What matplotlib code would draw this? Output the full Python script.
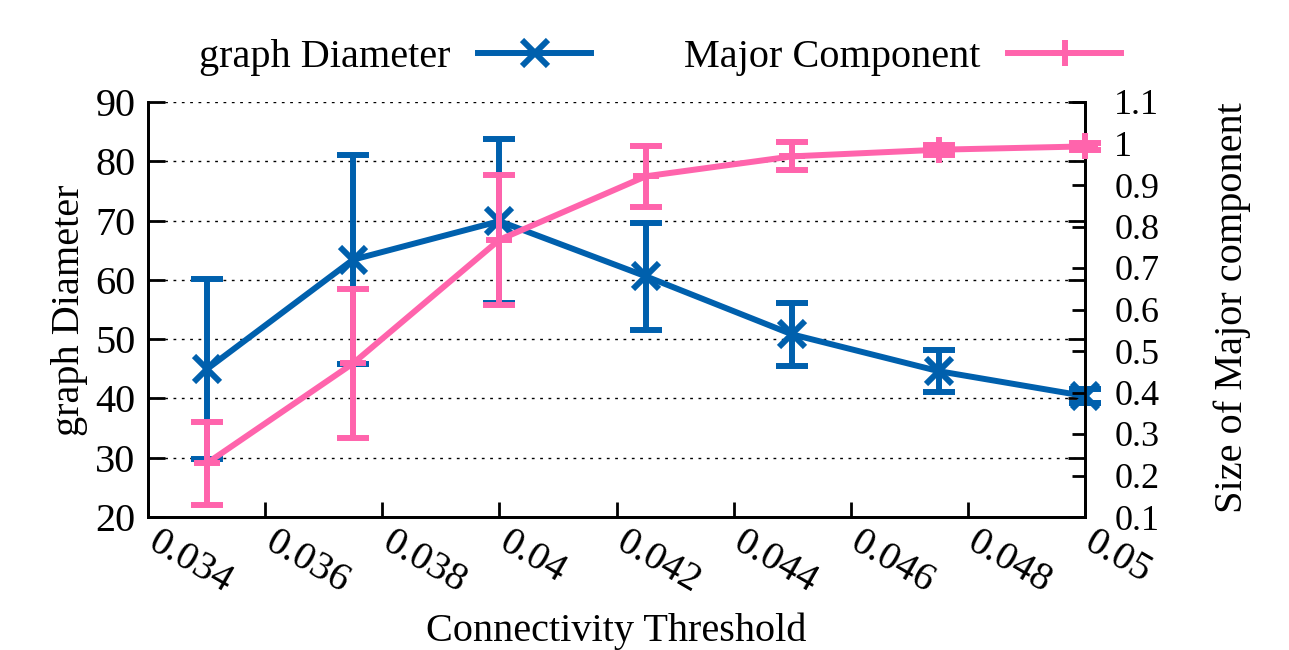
import matplotlib
matplotlib.use("Agg")
import matplotlib.pyplot as plt
from matplotlib.lines import Line2D
from matplotlib.transforms import ScaledTranslation

plt.rcParams['font.family'] = ['Liberation Serif', 'DejaVu Serif']

## données
seuils = [0.035, 0.0375, 0.04, 0.0425, 0.045, 0.0475, 0.05]
diametre = [44.9, 63.4, 69.9, 60.6, 50.8, 44.6, 40.4]
diametre_err = [15.2, 17.6, 13.8, 9.0, 5.3, 3.5, 1.2]
composante = [0.229, 0.470, 0.768, 0.921, 0.969, 0.985, 0.993]
composante_err = [0.10, 0.18, 0.157, 0.074, 0.034, 0.012, 0.008]
xticks = [0.034, 0.036, 0.038, 0.04, 0.042, 0.044, 0.046, 0.048, 0.05]
xlabels = ['0.034', '0.036', '0.038', '0.04', '0.042', '0.044', '0.046', '0.048', '0.05']
yticks_g = [20, 30, 40, 50, 60, 70, 80, 90]
yticks_d = [0.1, 0.2, 0.3, 0.4, 0.5, 0.6, 0.7, 0.8, 0.9, 1.0, 1.1]
ylabels_d = ['0.1', '0.2', '0.3', '0.4', '0.5', '0.6', '0.7', '0.8', '0.9', '1', '1.1']

bleu = '#0060ad'
rose = '#ff64ac'
taille = 29
ep = 4.3

fig = plt.figure(figsize=(12.89, 6.5), dpi=100)
ax1 = fig.add_axes([148/1289, 1-517/650, (1085-148)/1289, (517-102)/650])
ax2 = ax1.twinx()

ax1.errorbar(seuils, diametre, yerr=diametre_err, fmt='-x', color=bleu,
             lw=ep, elinewidth=ep, capsize=11.5, capthick=ep, ms=19, mew=ep,
             clip_on=False, zorder=3)
ax2.errorbar(seuils, composante, yerr=composante_err, fmt='-+', color=rose,
             lw=ep, elinewidth=ep, capsize=11.5, capthick=ep, ms=19, mew=ep,
             clip_on=False, zorder=3)

ax1.set_xlim(0.034, 0.05)
ax1.set_ylim(20, 90)
ax2.set_ylim(0.1, 1.1)

ax1.set_xticks(xticks)
ax1.set_xticklabels(xlabels, rotation=-30, ha='left', va='top',
                    rotation_mode='anchor', fontsize=taille)
ax1.set_yticks(yticks_g)
ax1.set_yticklabels([str(v) for v in yticks_g], fontsize=taille)
ax2.set_yticks(yticks_d)
ax2.set_yticklabels(ylabels_d, fontsize=taille - 3)

ax1.tick_params(axis='x', direction='in', length=11, width=2, pad=5, top=False)
ax1.tick_params(axis='y', direction='in', length=12, width=2, pad=9,
                left=True, right=True, labelright=False)
ax2.tick_params(axis='y', direction='in', length=9.5, width=2, pad=21)

#décalage des étiquettes de l'axe x vers la droite
decal = ScaledTranslation(12/100, 0, fig.dpi_scale_trans)
for tick in ax1.xaxis.get_major_ticks():
    tick.label1.set_transform(tick.label1.get_transform() + decal)

ax1.yaxis.grid(True, linestyle=(0, (2, 4)), color='black', lw=1)
for ax in (ax1, ax2):
    ax.spines['top'].set_visible(False)
    for s in ('left', 'right', 'bottom'):
        ax.spines[s].set_linewidth(2)

#titres des axes
fig.text(70/1289, 1-310/650, 'graph Diameter', rotation=90, ha='center',
         va='center', fontsize=taille)
fig.text(1232/1289, 1-308/650, 'Size of Major component', rotation=90,
         ha='center', va='center', fontsize=taille)
fig.text(616/1289, 1-641/650, 'Connectivity Threshold', ha='center',
         va='baseline', fontsize=taille)

#légende
h1 = Line2D([], [], color=bleu, lw=ep, marker='x', ms=19, mew=ep)
h2 = Line2D([], [], color=rose, lw=ep, marker='+', ms=19, mew=ep)
fig.legend([h1, h2], ['graph Diameter', 'Major Component'], loc='center',
           bbox_to_anchor=(660/1289, 1-57/650), ncol=2, frameon=False,
           markerfirst=False, fontsize=taille, handlelength=2.8,
           handletextpad=0.7, columnspacing=2.3)

fig.savefig('out.png', dpi=100)
